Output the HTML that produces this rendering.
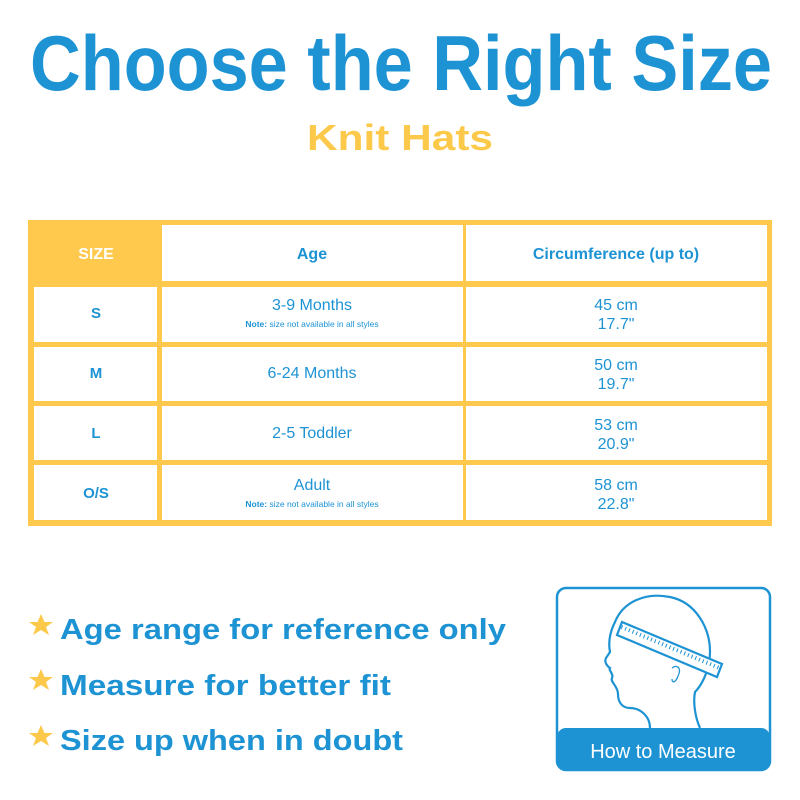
<!DOCTYPE html>
<html><head><meta charset="utf-8"><style>
body{margin:0;width:800px;height:800px;background:#fff;overflow:hidden;font-family:"Liberation Sans",sans-serif}
svg{display:block}
</style></head><body>
<svg width="800" height="800" viewBox="0 0 800 800" xmlns="http://www.w3.org/2000/svg" font-family="Liberation Sans, sans-serif">
<text x="30" y="90" font-size="78" font-weight="bold" fill="#1d93d4" textLength="742" lengthAdjust="spacingAndGlyphs">Choose the Right Size</text>
<text x="400" y="150" font-size="36" font-weight="bold" fill="#fcc94a" text-anchor="middle" textLength="186" lengthAdjust="spacingAndGlyphs">Knit Hats</text>
<rect x="28" y="220" width="744" height="306" fill="#fec94c"/>
<rect x="162" y="225" width="301" height="56" fill="#fff"/>
<rect x="466" y="225" width="301" height="56" fill="#fff"/>
<g fill="#fff">
<rect x="34" y="287" width="123" height="55"/><rect x="162" y="287" width="301" height="55"/><rect x="466" y="287" width="301" height="55"/>
<rect x="34" y="347" width="123" height="54"/><rect x="162" y="347" width="301" height="54"/><rect x="466" y="347" width="301" height="54"/>
<rect x="34" y="406" width="123" height="54"/><rect x="162" y="406" width="301" height="54"/><rect x="466" y="406" width="301" height="54"/>
<rect x="34" y="465" width="123" height="55"/><rect x="162" y="465" width="301" height="55"/><rect x="466" y="465" width="301" height="55"/>
</g>
<g font-weight="bold" text-anchor="middle" font-size="16">
<text x="96" y="259" fill="#fff">SIZE</text>
<text x="312" y="259" fill="#1d93d4">Age</text>
<text x="616" y="259" fill="#1d93d4">Circumference (up to)</text>
<g fill="#1d93d4" font-size="15">
<text x="96" y="318">S</text><text x="96" y="378">M</text><text x="96" y="438">L</text><text x="96" y="498">O/S</text>
</g></g>
<g fill="#1d93d4" text-anchor="middle" font-size="16">
<text x="312" y="310">3-9 Months</text>
<text x="312" y="378">6-24 Months</text>
<text x="312" y="438">2-5 Toddler</text>
<text x="312" y="490">Adult</text>
<text x="312" y="327" font-size="8.5"><tspan font-weight="bold">Note:</tspan> size not available in all styles</text>
<text x="312" y="507" font-size="8.5"><tspan font-weight="bold">Note:</tspan> size not available in all styles</text>
<text x="616" y="310">45 cm</text><text x="616" y="329">17.7"</text>
<text x="616" y="370">50 cm</text><text x="616" y="389">19.7"</text>
<text x="616" y="430">53 cm</text><text x="616" y="449">20.9"</text>
<text x="616" y="490">58 cm</text><text x="616" y="509">22.8"</text>
</g>
<g fill="#fcc94a">
<polygon points="41,614 44.5,622 53,622 46,627 49,635 41,630 33,635 36,627 29,622 37.5,622"/>
<polygon points="41,669 44.5,677 53,677 46,682 49,690 41,685 33,690 36,682 29,677 37.5,677"/>
<polygon points="41,725 44.5,733 53,733 46,738 49,746 41,741 33,746 36,738 29,733 37.5,733"/>
</g>
<g fill="#1d93d4" font-weight="bold" font-size="29">
<text x="60" y="639" textLength="446" lengthAdjust="spacingAndGlyphs">Age range for reference only</text>
<text x="60" y="695" textLength="331" lengthAdjust="spacingAndGlyphs">Measure for better fit</text>
<text x="60" y="750" textLength="343" lengthAdjust="spacingAndGlyphs">Size up when in doubt</text>
</g>
<rect x="557" y="588" width="213" height="182" rx="9" fill="#fff" stroke="#1d93d4" stroke-width="2.5"/>
<path d="M557,737 a9,9 0 0 1 9,-9 h195 a9,9 0 0 1 9,9 v24 a9,9 0 0 1 -9,9 h-195 a9,9 0 0 1 -9,-9z" fill="#1d93d4"/>
<text x="663" y="758" font-size="20" fill="#fff" text-anchor="middle">How to Measure</text>
<g fill="none" stroke="#1d93d4" stroke-width="2.2">
<path d="M650,728 c0,-12 -10,-20 -20,-20 c-8,0 -12,-6 -12,-14 c0,-8 -8,-12 -6,-16 c2,-4 -4,-8 -2,-10 c-3,-2 -6,-6 -4,-10 l4,-6 c-2,-10 0,-20 5,-30 c8,-20 30,-30 55,-25 c25,5 40,30 40,55 c0,20 -10,35 -15,40 c-2,10 0,25 5,36"/>
<path d="M622,622 l100,42 l-5,13 l-100,-42z" fill="#fff"/>
<path d="M621.5,627 l98,41" stroke-width="4" stroke-dasharray="1 3"/>
<path d="M672,668 c5,-4 10,0 6,8 c-2,6 -6,8 -6,3" stroke-width="1.3"/>
</g>
</svg>
</body></html>
